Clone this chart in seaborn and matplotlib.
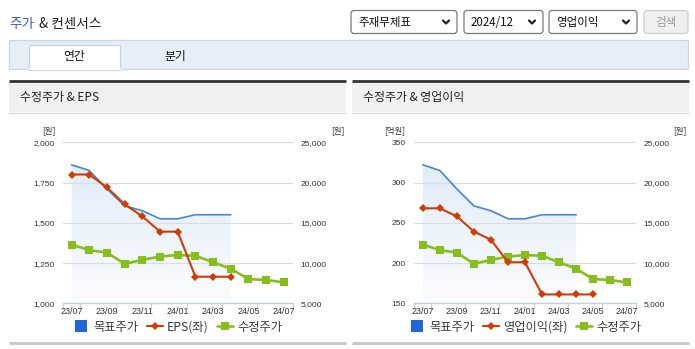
import numpy as np
import matplotlib
matplotlib.use("Agg")
import matplotlib.pyplot as plt
import seaborn as sns
from matplotlib.patches import Rectangle, FancyBboxPatch
from matplotlib.lines import Line2D
from matplotlib.colors import LinearSegmentedColormap
from matplotlib.ticker import FixedLocator, FuncFormatter

# ---- data -------------------------------------------------------------
months = ["23/07", "23/08", "23/09", "23/10", "23/11", "23/12", "24/01",
          "24/02", "24/03", "24/04", "24/05", "24/06", "24/07"]
adj_price = [12300, 11600, 11300, 9900, 10400, 10800, 11000,
             10900, 10100, 9300, 8000, 7900, 7600]          # 수정주가 (원)
target_price = [22200, 21500, 19200, 17100, 16500, 15500, 15500,
                16000, 16000, 16000]                          # 목표주가 (원)
eps = [1800, 1800, 1720, 1615, 1540, 1445, 1445, 1165, 1165, 1165]   # EPS (원)
op_income = [268, 268, 258, 239, 229, 201, 201, 161, 161, 161, 161]  # 영업이익 (억원)

price_ticks = [5000, 10000, 15000, 20000, 25000]
eps_ticks = [1000, 1250, 1500, 1750, 2000]
op_ticks = [150, 200, 250, 300, 350]

# ---- style ------------------------------------------------------------
sns.set_theme(style="white")
plt.rcParams["font.family"] = ["Noto Sans CJK KR", "DejaVu Sans"]
plt.rcParams["axes.unicode_minus"] = False

W, H = 695, 349
fig = plt.figure(figsize=(W / 100, H / 100), dpi=100)
fig.patch.set_facecolor("white")

C_GREEN = "#86bf1c"
C_RED = "#cf3d06"
C_BLUE = "#4a84d6"
C_BLUE_KEY = "#1f68d8"
TXT = "#333333"
NUM_FONT = ["Liberation Sans", "DejaVu Sans"]


def px_box(x0, y0, x1, y1):
    return [x0 / W, 1 - y1 / H, (x1 - x0) / W, (y1 - y0) / H]


# page chrome drawn in pixel coordinates
bg = fig.add_axes([0, 0, 1, 1], zorder=-10)
bg.set_xlim(0, W)
bg.set_ylim(H, 0)
bg.axis("off")

bg.text(9, 24, "주가", color="#2a62c9", fontsize=9.8, va="center", ha="left")
bg.text(39, 24, "& 컨센서스", color="#222222", fontsize=9.8, va="center", ha="left")

# selectors
boxes = [(351, 457, "주재무제표"), (464, 543, "2024/12"), (549, 637, "영업이익")]
for x0, x1, label in boxes:
    bg.add_patch(FancyBboxPatch((x0, 10.5), x1 - x0, 23, boxstyle="round,pad=0,rounding_size=3",
                                fc="white", ec="#7a7a7a", lw=0.9))
    bg.text(x0 + 7, 22.5, label, fontsize=8.3, color="#111111", va="center", ha="left")
    cx = x1 - 11
    bg.plot([cx - 3, cx, cx + 3], [20.5, 23.5, 20.5], color="#222222", lw=1.6,
            solid_capstyle="round", solid_joinstyle="round")
bg.add_patch(FancyBboxPatch((644, 10.5), 44, 23, boxstyle="round,pad=0,rounding_size=3",
                            fc="#efefef", ec="#cfcfcf", lw=0.9))
bg.text(666, 22.5, "검색", fontsize=8.3, color="#9a9a9a", va="center", ha="center")

# tab strip
bg.add_patch(Rectangle((9, 40), 679, 29, fc="#e8eef8", ec="#cdd6e4", lw=0.9))
bg.add_patch(Rectangle((29, 44.5), 91, 25, fc="white", ec="#c9d2e0", lw=0.9))
bg.plot([29.5, 119.5], [69.2, 69.2], color="white", lw=1.6)
bg.text(74.5, 56.5, "연간", fontsize=8.5, color="#111111", va="center", ha="center")
bg.text(175.5, 56.5, "분기", fontsize=8.5, color="#111111", va="center", ha="center")

# chart panels
panels = [(9, 346, "수정주가 & EPS"), (352, 689, "수정주가 & 영업이익")]
for x0, x1, title in panels:
    bg.add_patch(Rectangle((x0, 82), x1 - x0, 30, fc="#f0f0f0", ec="none"))
    bg.plot([x0, x1], [81, 81], color="#333333", lw=2.0, solid_capstyle="butt")
    bg.plot([x0, x1], [112.5, 112.5], color="#d9d9d9", lw=0.9, solid_capstyle="butt")
    bg.plot([x0, x1], [343, 343], color="#c6c6c6", lw=2.0, solid_capstyle="butt")
    bg.text(x0 + 11, 97.5, title, fontsize=8.6, color="#222222", va="center", ha="left")

grad_cmap = LinearSegmentedColormap.from_list("fill", ["#fbfcff", "#e1ecf9"])


def draw_chart(rect, left_vals, left_ticks, left_fmt, left_name, left_unit,
               unit_x, right_unit_x):
    ax = fig.add_axes(rect)
    ax2 = ax.twinx()
    ax.set_zorder(ax2.get_zorder() + 1)
    ax.patch.set_visible(False)
    ax2.patch.set_visible(False)

    x_all = np.arange(len(months))

    # target price area with a soft vertical gradient
    x_tp = np.arange(len(target_price))
    poly = ax2.fill_between(x_tp, target_price, price_ticks[0], facecolor="none",
                            edgecolor="none")
    grad = np.linspace(0, 1, 256).reshape(-1, 1)
    im = ax2.imshow(grad, extent=[-0.5, 12.5, price_ticks[0], max(target_price)],
                    origin="lower", aspect="auto", cmap=grad_cmap, zorder=0.5)
    im.set_clip_path(poly.get_paths()[0], transform=ax2.transData)
    sns.lineplot(x=x_tp, y=target_price, ax=ax2, color=C_BLUE, linewidth=1.2,
                 zorder=2)
    sns.lineplot(x=x_all, y=adj_price, ax=ax2, color=C_GREEN, linewidth=1.9,
                 marker="s", markersize=6.3, markeredgewidth=0, zorder=3)

    x_l = np.arange(len(left_vals))
    sns.lineplot(x=x_l, y=left_vals, ax=ax, color=C_RED, linewidth=1.5,
                 marker="D", markersize=4.2, markeredgewidth=0, zorder=4)

    # axes ranges / ticks
    ax.set_xlim(-0.5, len(months) - 0.5)
    ax.set_ylim(left_ticks[0], left_ticks[-1])
    ax2.set_ylim(price_ticks[0], price_ticks[-1])
    ax.set_yticks(left_ticks)
    ax.yaxis.set_major_formatter(FuncFormatter(left_fmt))
    ax2.set_yticks(price_ticks)
    ax2.yaxis.set_major_formatter(FuncFormatter(lambda v, p: f"{int(v):,}"))

    ax.xaxis.set_major_locator(FixedLocator([-0.5, 0.5, 2.5, 4.5, 6.5, 8.5, 10.5, 12.5]))
    ax.xaxis.set_major_formatter(FuncFormatter(lambda v, p: ""))
    ax.xaxis.set_minor_locator(FixedLocator(x_all[::2]))
    ax.xaxis.set_minor_formatter(FuncFormatter(lambda v, p: months[int(round(v))]))
    ax.tick_params(axis="x", which="major", length=4, width=0.9, color="#c3d0df",
                   direction="out", bottom=True)
    ax.tick_params(axis="x", which="minor", length=0, pad=3, labelsize=6.4,
                   labelcolor=TXT, labelfontfamily=NUM_FONT, bottom=True)
    ax.tick_params(axis="y", length=0, pad=6, labelsize=6.0, labelcolor=TXT,
                   labelfontfamily=NUM_FONT)
    ax2.tick_params(axis="y", length=0, pad=5.5, labelsize=6.0, labelcolor=TXT,
                    labelfontfamily=NUM_FONT)

    for s in ["left", "right", "top"]:
        ax.spines[s].set_visible(False)
        ax2.spines[s].set_visible(False)
    ax2.spines["bottom"].set_visible(False)
    ax.spines["bottom"].set_color("#c3d0df")
    ax.spines["bottom"].set_linewidth(1.0)

    ax.grid(False)
    ax2.grid(False)
    ax2.yaxis.grid(True, color="#dcdcdc", linewidth=0.9)
    ax2.set_axisbelow("line")
    ax.set_xlabel("")
    ax.set_ylabel("")
    ax2.set_ylabel("")

    # unit captions
    bg.text(unit_x, 131, left_unit, fontsize=6.0, color=TXT, ha="right", va="center")
    bg.text(right_unit_x, 131, "[원]", fontsize=6.0, color=TXT, ha="right", va="center")

    handles = [
        Line2D([], [], linestyle="none", marker="s", markersize=8, color=C_BLUE_KEY,
               markeredgewidth=0),
        Line2D([], [], color=C_RED, linewidth=1.5, marker="D", markersize=4.2,
               markeredgewidth=0),
        Line2D([], [], color=C_GREEN, linewidth=1.9, marker="s", markersize=6.3,
               markeredgewidth=0),
    ]
    leg = ax.legend(handles, ["목표주가", left_name, "수정주가"], ncol=3, loc="center",
                    bbox_to_anchor=(0.5, -0.148), frameon=False, fontsize=8.8,
                    handlelength=1.3, handletextpad=0.35, columnspacing=0.7,
                    borderaxespad=0)
    for t in leg.get_texts():
        t.set_color("#3a3a3a")
    return ax, ax2


draw_chart(px_box(62.7, 142.3, 292.7, 303.3), eps, eps_ticks,
           lambda v, p: f"{int(v):,}", "EPS(좌)", "[원]", 55.5, 345)
draw_chart(px_box(414.3, 142.3, 635.7, 303.3), op_income, op_ticks,
           lambda v, p: f"{int(v)}", "영업이익(좌)", "[억원]", 405.5, 687)

fig.savefig("out.png", dpi=100)
